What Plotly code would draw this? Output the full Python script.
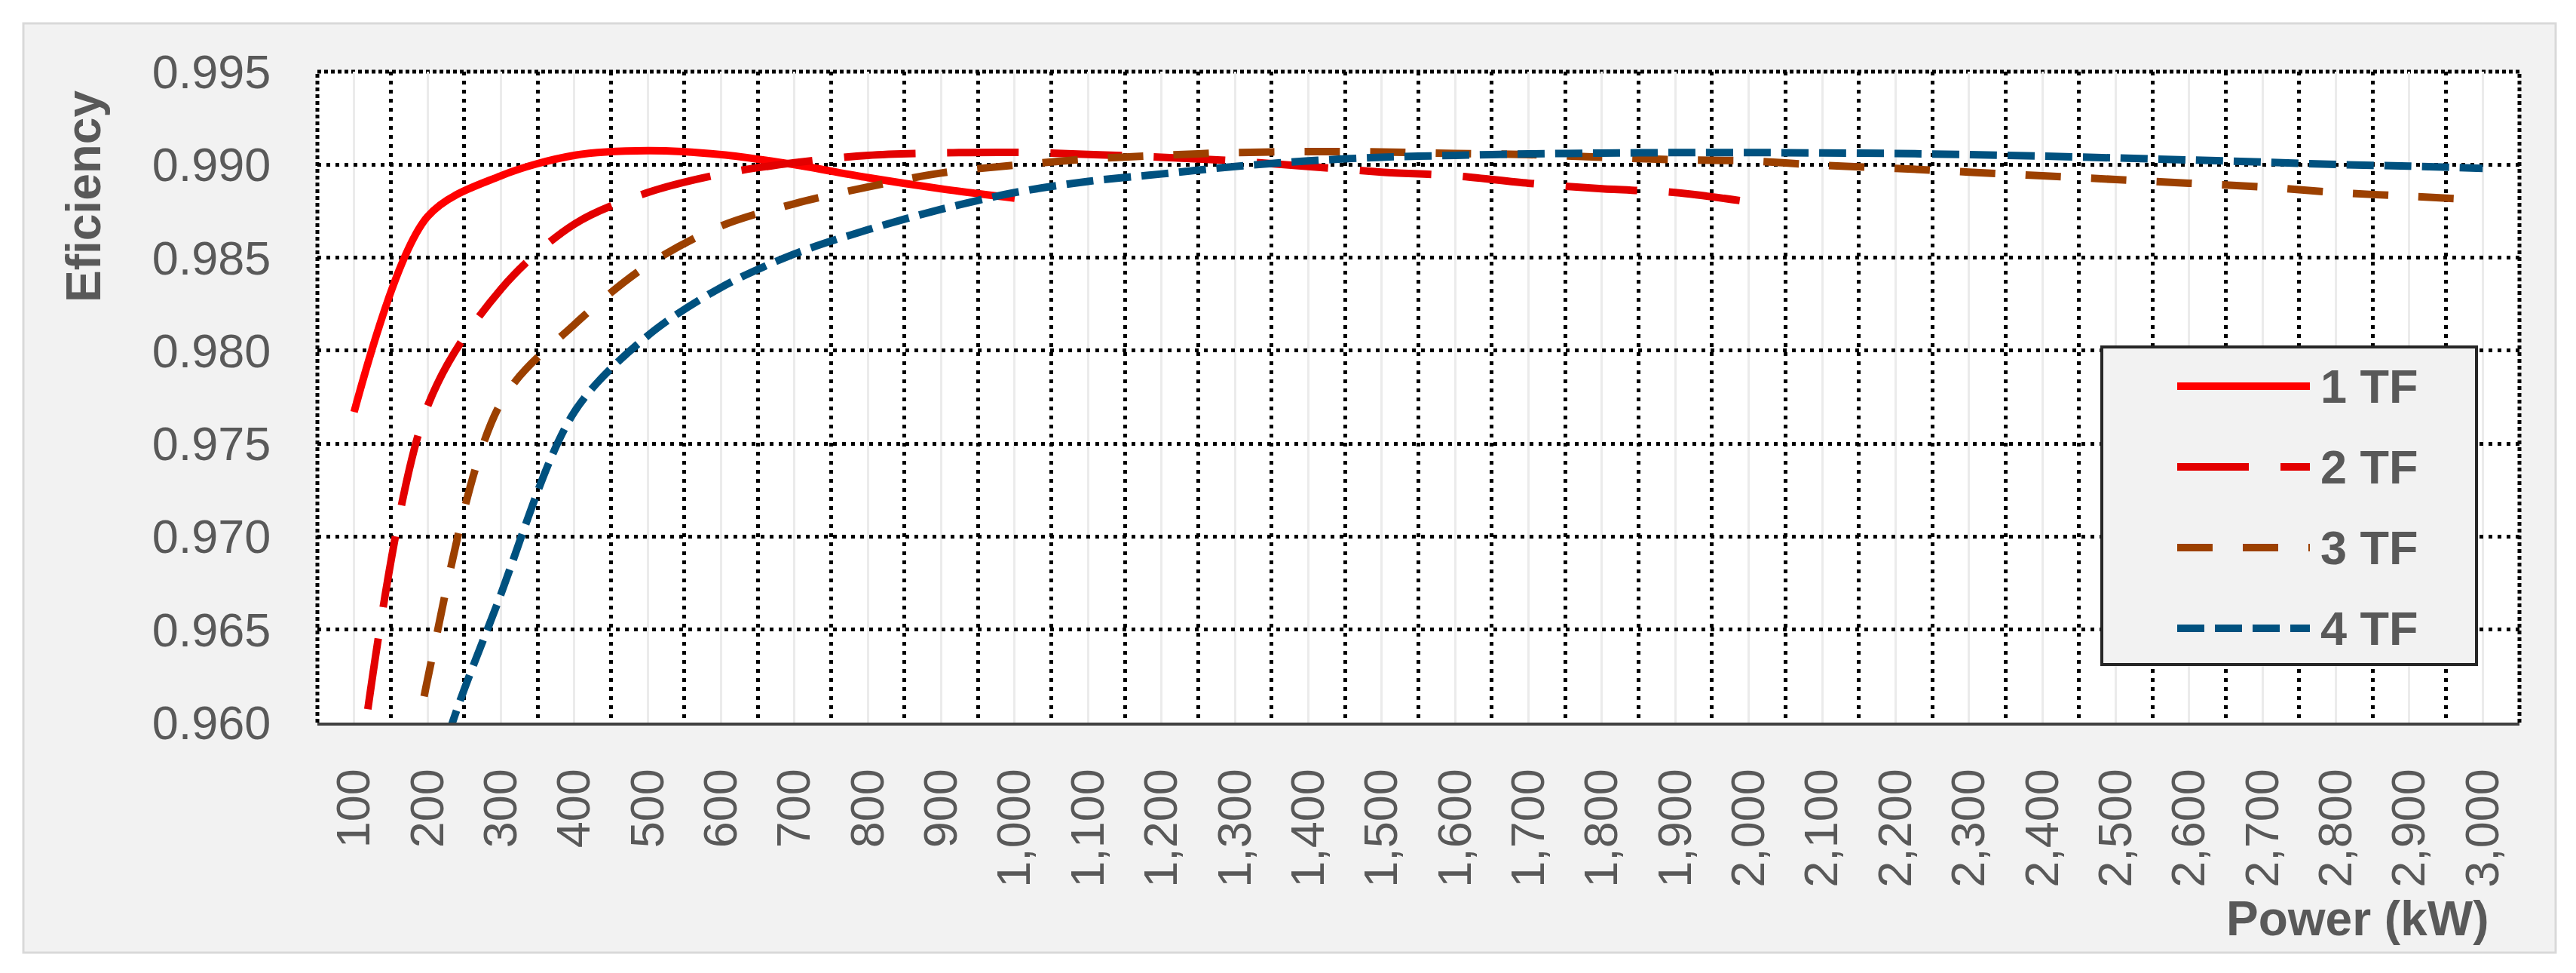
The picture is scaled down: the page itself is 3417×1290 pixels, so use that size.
import plotly.graph_objects as go

# power categories (kW)
power_kw = list(range(100, 3100, 100))

# efficiency (values under 0.960 are off the axis, estimated)
eff_1tf = [0.9767, 0.9872, 0.9894, 0.9905, 0.99075, 0.99054, 0.9900, 0.9893, 0.9887, 0.9882]
eff_2tf = [0.9552, 0.9770, 0.9833, 0.9868, 0.9885, 0.9895, 0.9901, 0.9905, 0.99063, 0.99066,
           0.99055, 0.9904, 0.9902, 0.9899, 0.9896, 0.9894, 0.9890, 0.9887, 0.9885, 0.9880]
eff_3tf = [0.937, 0.9623, 0.9772, 0.9814, 0.9846, 0.9867, 0.9879, 0.9888, 0.98955, 0.98997,
           0.9903, 0.9905, 0.99065, 0.9907, 0.99068, 0.9906, 0.99054, 0.9904, 0.99026, 0.9902,
           0.98997, 0.9898, 0.9896, 0.9894, 0.9892, 0.9890, 0.9888, 0.9885, 0.9883, 0.9881]
eff_4tf = [0.915, 0.9552, 0.9669, 0.9767, 0.9808, 0.9834, 0.9852, 0.9865, 0.9876, 0.9885,
           0.9891, 0.9895, 0.9899, 0.9902, 0.9904, 0.9905, 0.99058, 0.99062, 0.99065, 0.99065,
           0.99063, 0.9906, 0.99054, 0.99046, 0.99036, 0.99025, 0.99014, 0.99001, 0.98992, 0.9898]

series_names = ["1 TF", "2 TF", "3 TF", "4 TF"]
series_values = [eff_1tf, eff_2tf, eff_3tf, eff_4tf]

# styling
colors = ["#ff0000", "#e30000", "#9c4000", "#00517f"]
dashes = ["solid", "95px,42px", "47px,40px", "36px,14px"]
LINE_W = 10
TXT = "#595959"
FONT = "Arial, Liberation Sans, sans-serif"
GRID_DASH = "5px,7px"

# plot area in pixels
W, H = 3417, 1290
L, R, T, B = 413, 3334, 87, 950


def px_x(X):
    return (X - L) / (R - L)


def px_y(Y):
    return (B - Y) / (B - T)


fig = go.Figure()
for name, vals, c, d in zip(series_names, series_values, colors, dashes):
    fig.add_trace(go.Scatter(
        x=power_kw[:len(vals)], y=vals, name=name, mode="lines",
        line=dict(color=c, width=LINE_W, dash=d, shape="spline", smoothing=0.9),
        showlegend=False,
    ))

shapes = [
    # grey outer panel
    dict(type="rect", xref="paper", yref="paper", layer="below",
         x0=px_x(23), x1=px_x(3382), y0=px_y(1255), y1=px_y(23),
         fillcolor="#f2f2f2", line=dict(color="#d9d9d9", width=3)),
    # white plot area
    dict(type="rect", xref="paper", yref="paper", layer="below",
         x0=0, x1=1, y0=0, y1=1, fillcolor="white", line=dict(width=0)),
]
# dotted border (left, top, right)
for x0, y0, x1, y1 in [(0, 0, 0, 1), (0, 1, 1, 1), (1, 0, 1, 1)]:
    shapes.append(dict(type="line", xref="paper", yref="paper", layer="below",
                       x0=x0, y0=y0, x1=x1, y1=y1,
                       line=dict(color="black", width=5, dash="5px,4px")))

# legend box
shapes.append(dict(type="rect", xref="paper", yref="paper", layer="above",
                   x0=px_x(2780), x1=px_x(3277), y0=px_y(873), y1=px_y(452),
                   fillcolor="#f2f2f2", line=dict(color="#262626", width=4)))

annotations = []
legend_rows = [504, 611, 718, 825]
for name, c, d, row in zip(series_names, colors, dashes, legend_rows):
    shapes.append(dict(type="line", xref="paper", yref="paper", layer="above",
                       x0=px_x(2880), x1=px_x(3056), y0=px_y(row), y1=px_y(row),
                       line=dict(color=c, width=LINE_W, dash=d)))
    annotations.append(dict(text=name, xref="paper", yref="paper", showarrow=False,
                            x=px_x(3068), y=px_y(row), xanchor="left", yanchor="middle",
                            font=dict(family=FONT, size=63, color=TXT, weight="bold")))

annotations.append(dict(text="Eficiency", xref="paper", yref="paper", showarrow=False,
                        x=px_x(103), y=px_y(253), textangle=-90,
                        xanchor="center", yanchor="middle",
                        font=dict(family=FONT, size=64, color=TXT, weight="bold")))
annotations.append(dict(text="Power (kW)", xref="paper", yref="paper", showarrow=False,
                        x=px_x(3295), y=px_y(1210), xanchor="right", yanchor="middle",
                        font=dict(family=FONT, size=64, color=TXT, weight="bold")))

fig.update_layout(
    width=W, height=H,
    margin=dict(l=L, r=W - R, t=T, b=H - B),
    paper_bgcolor="white", plot_bgcolor="white",
    font=dict(family=FONT, size=63, color=TXT),
    showlegend=False,
    shapes=shapes,
    annotations=annotations,
)

fig.update_xaxes(
    range=[50, 3050], tickmode="array", tickvals=power_kw, tickformat=",d", tickangle=-90,
    ticks="outside", ticklen=32, tickcolor="rgba(0,0,0,0)",
    showgrid=True, gridcolor="#ebebeb", gridwidth=3,
    minor=dict(tickmode="array", tickvals=[v + 50 for v in power_kw[:-1]], ticks="",
               showgrid=True, gridcolor="black", gridwidth=5, griddash=GRID_DASH),
    showline=True, linecolor="#404040", linewidth=4, zeroline=False,
)
fig.update_yaxes(
    range=[0.960, 0.995], tick0=0.960, dtick=0.005, tickformat=".3f",
    ticks="outside", ticklen=48, tickcolor="rgba(0,0,0,0)",
    showgrid=True, gridcolor="black", gridwidth=5, griddash=GRID_DASH,
    showline=False, zeroline=False,
)

fig.write_html("out.html")
